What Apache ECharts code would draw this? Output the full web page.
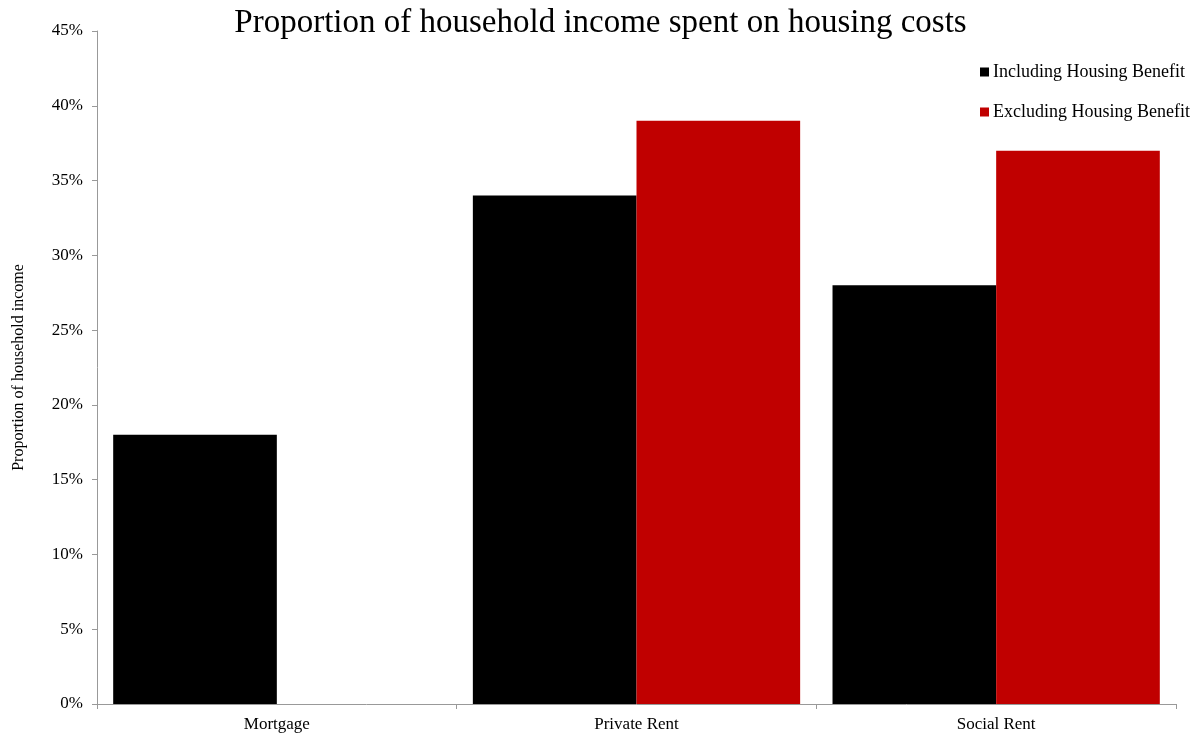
<!DOCTYPE html>
<html>
<head>
<meta charset="utf-8">
<script src="https://cdn.jsdelivr.net/npm/echarts@6/dist/echarts.min.js"></script>
<style>html,body{margin:0;padding:0;background:#fff}#c{width:1201px;height:733px}</style>
</head>
<body>
<div id="c"></div>
<script>
const categories = ['Mortgage', 'Private Rent', 'Social Rent'];
const includingHB = [18, 34, 28];
const excludingHB = [null, 39, 37];
const yTicks = [0, 5, 10, 15, 20, 25, 30, 35, 40, 45];

const FONT = "'Liberation Serif', 'DejaVu Serif', serif";
const chart = echarts.init(document.getElementById('c'));
chart.setOption({
  animation: false,
  backgroundColor: '#fff',
  textStyle: { fontFamily: FONT },
  title: {
    text: 'Proportion of household income spent on housing costs',
    left: 'center', top: 2,
    textStyle: { fontFamily: FONT, fontSize: 33, fontWeight: 'normal', color: '#000' }
  },
  legend: {
    orient: 'vertical', left: 975, top: 58, itemGap: 22,
    itemWidth: 9, itemHeight: 9, icon: 'rect',
    textStyle: { fontFamily: FONT, fontSize: 18, color: '#000', padding: [0, 0, 0, -1] },
    data: ['Including Housing Benefit', 'Excluding Housing Benefit']
  },
  grid: { left: 97, right: 25, top: 31, bottom: 28, containLabel: false },
  xAxis: {
    type: 'category', data: categories,
    axisLine: { lineStyle: { color: '#999' } },
    axisTick: { show: true, length: 5, lineStyle: { color: '#999' } },
    axisLabel: { fontFamily: FONT, fontSize: 17, color: '#000', margin: 12 }
  },
  yAxis: {
    type: 'value', min: yTicks[0], max: yTicks[yTicks.length - 1], interval: 5,
    name: 'Proportion of household income', nameLocation: 'middle', nameGap: 70,
    nameTextStyle: { fontFamily: FONT, fontSize: 16, color: '#000' },
    axisLine: { show: true, lineStyle: { color: '#999' } },
    axisTick: { show: true, length: 5, lineStyle: { color: '#999' } },
    splitLine: { show: false },
    axisLabel: { fontFamily: FONT, fontSize: 17, color: '#000', margin: 14, formatter: v => v + '%' }
  },
  series: [
    { name: 'Including Housing Benefit', type: 'bar', data: includingHB, itemStyle: { color: '#000000' }, barGap: '0%', barCategoryGap: '9%' },
    { name: 'Excluding Housing Benefit', type: 'bar', data: excludingHB, itemStyle: { color: '#c00000' }, barGap: '0%', barCategoryGap: '9%' }
  ]
});
</script>
</body>
</html>
